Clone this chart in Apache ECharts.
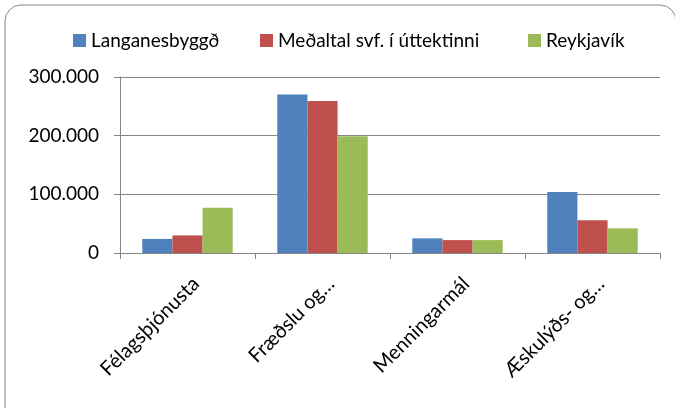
<!DOCTYPE html>
<html>
<head>
<meta charset="utf-8">
<script src="https://cdn.jsdelivr.net/npm/echarts@6/dist/echarts.min.js"></script>
<style>
  html, body { margin: 0; padding: 0; background: #fff; }
  #chart { width: 675px; height: 408px; }
</style>
</head>
<body>
<div id="chart"></div>
<script>
const categories = ["Félagsþjónusta", "Fræðslu og…", "Menningarmál", "Æskulýðs- og…"];
const seriesNames = ["Langanesbyggð", "Meðaltal svf. í úttektinni", "Reykjavík"];
const langanes = [24000, 270000, 25000, 104000];
const medaltal = [30000, 259000, 22000, 56000];
const reykjavik = [77000, 199000, 22000, 42000];
const colors = ["#4F81BD", "#C0504D", "#9BBB59"];

const chart = echarts.init(document.getElementById("chart"));
const font = "Lato, 'Open Sans', sans-serif";

// 300000 -> 300.000
const fmt = (v) => String(v).replace(/\B(?=(\d{3})+(?!\d))/g, ".");

// one legend per entry so each sits where the original has it
const legendLeft = [68, 255, 523];
const legends = seriesNames.map((name, i) => ({
  top: 26,
  left: legendLeft[i],
  itemWidth: 13,
  itemHeight: 13,
  icon: "rect",
  textStyle: { fontFamily: font, fontSize: 19, color: "#000" },
  data: [name],
}));

chart.setOption({
  animation: false,
  color: colors,
  graphic: [
    {
      type: "rect",
      shape: { x: 5, y: 5, width: 671, height: 420, r: 16 },
      style: { fill: "none", stroke: "#868686", lineWidth: 1 },
      silent: true,
    },
  ],
  legend: legends,
  grid: { left: 120, right: 15, top: 77, bottom: 155 },
  xAxis: {
    type: "category",
    data: categories,
    axisLine: { lineStyle: { color: "#868686" } },
    axisTick: { show: true, length: 6, lineStyle: { color: "#868686" } },
    axisLabel: {
      rotate: 45,
      interval: 0,
      margin: 36,
      padding: [0, -12, 0, 0],
      fontFamily: font,
      fontSize: 20,
      color: "#000",
    },
  },
  yAxis: {
    type: "value",
    min: 0,
    max: 300000,
    interval: 100000,
    axisLine: { show: true, lineStyle: { color: "#868686" } },
    axisTick: { show: true, length: 6, lineStyle: { color: "#868686" } },
    splitLine: { lineStyle: { color: "#868686" } },
    axisLabel: {
      formatter: fmt,
      margin: 21,
      fontFamily: font,
      fontSize: 19,
      color: "#000",
    },
  },
  series: [
    { name: seriesNames[0], type: "bar", data: langanes, barGap: "0%", barCategoryGap: "33%" },
    { name: seriesNames[1], type: "bar", data: medaltal, barGap: "0%", barCategoryGap: "33%" },
    { name: seriesNames[2], type: "bar", data: reykjavik, barGap: "0%", barCategoryGap: "33%" },
  ],
});
</script>
</body>
</html>
